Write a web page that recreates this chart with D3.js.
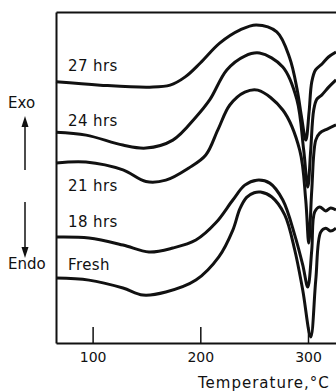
<!DOCTYPE html>
<html>
<head>
<meta charset="utf-8">
<script src="https://cdn.jsdelivr.net/npm/d3@7"></script>
<style>
  body { margin: 0; background: #fff; }
  text { font-family: "DejaVu Sans", sans-serif; fill: #111; }
</style>
</head>
<body>
<script>
const w = 336;
const h = 392;

// DTA traces, [temperature °C, signal (arbitrary units)]
const curve27 = [[66, 78.9], [107, 77.9], [153, 77.3], [172, 77.9], [186, 80.4], [200, 84.6], [218, 90.6], [237, 94.6], [252, 96.1], [271, 94.0], [283, 86.1], [290, 76.4], [294, 68.3], [298, 61.3], [301, 69.8], [303.5, 78.9], [307, 82.5], [313, 84.3], [319, 86.4], [326, 87.9]];
const curve24 = [[66, 63.7], [94, 62.8], [128, 59.8], [149.5, 58.9], [174.5, 61.3], [196, 68.3], [209, 73.6], [224.6, 82.5], [241.3, 86.7], [255, 87.6], [276.6, 83.4], [289.6, 73.6], [296, 58.3], [299.8, 47.1], [302.5, 58.3], [305.3, 70.4], [308.1, 73.6], [312.7, 74.9], [319.2, 77.3], [326, 79.5]];
const curve21 = [[66, 54.4], [93.8, 54.7], [128.2, 52.3], [149.5, 48.8], [168, 49.2], [189.4, 52.9], [205.1, 56.8], [216.3, 64.4], [227.4, 71.9], [241.3, 75.8], [253.4, 76.4], [276.6, 70.4], [292.3, 58.3], [297.9, 43.2], [300.7, 30.2], [303.5, 46.2], [307.2, 61.3], [310.9, 63.4], [318.3, 64.7], [326, 65.9]];
const curve18 = [[66, 32.0], [96.6, 31.7], [128.2, 29.6], [152.3, 27.5], [174.5, 28.7], [195.9, 31.1], [214.4, 36.3], [230.2, 43.2], [241.3, 47.7], [252.4, 49.2], [264.5, 48.3], [276.6, 43.2], [287.7, 32.6], [295.1, 23.6], [299.8, 16.9], [303.5, 28.1], [306.2, 39.6], [310.9, 41.1], [316.5, 39.9], [321.1, 40.8], [326, 40.2]];
const curveFresh = [[66, 19.6], [96.6, 19.0], [128.2, 16.6], [146.7, 14.5], [168, 15.4], [195.9, 19.0], [217.2, 26.0], [230.2, 34.1], [236.7, 40.5], [243, 44.0], [250, 45.4], [256, 45.6], [266.4, 44.1], [278.4, 38.7], [287.7, 28.1], [295.1, 16.0], [302.5, 1.8], [307.2, 19.0], [311.8, 33.5], [316.5, 34.7], [321.1, 33.8], [326, 34.7]];

const curveLabels = ["27 hrs", "24 hrs", "21 hrs", "18 hrs", "Fresh"];
const labelLevels = [82.2, 65.6, 46.0, 35.0, 22.1];
const tickTemps = [100, 200, 300];

const svg = d3.select("body")
  .append("svg")
  .attr("width", w)
  .attr("height", h);

svg.append("rect").attr("width", w).attr("height", h).attr("fill", "#fff");

const x = d3.scaleLinear().domain([66, 326]).range([56, 336]);
const y = d3.scaleLinear().domain([0, 100]).range([343, 12]);

// frame: bottom axis with inward ticks, left and top plain lines
const xAxis = svg.append("g")
  .attr("transform", "translate(0," + y(0) + ")")
  .call(d3.axisBottom(x).tickValues(tickTemps).tickSizeInner(-16).tickSizeOuter(0).tickPadding(9));
xAxis.selectAll("text").attr("font-size", 14).attr("font-family", "DejaVu Sans").attr("fill", "#111");

svg.append("g")
  .attr("transform", "translate(" + x(66) + ",0)")
  .call(d3.axisLeft(y).tickValues([]).tickSizeOuter(0));

svg.append("g")
  .attr("transform", "translate(0," + y(100) + ")")
  .call(d3.axisTop(x).tickValues([]).tickSizeOuter(0));

svg.selectAll(".domain").attr("stroke", "#111").attr("stroke-width", 2);
svg.selectAll(".tick line").attr("stroke", "#111").attr("stroke-width", 1.5);

const line = d3.line()
  .x(d => x(d[0]))
  .y(d => y(d[1]))
  .curve(d3.curveCatmullRom.alpha(0.5));

svg.append("g")
  .selectAll("path")
  .data([curve27, curve24, curve21, curve18, curveFresh])
  .enter()
  .append("path")
  .attr("d", line)
  .attr("fill", "none")
  .attr("stroke", "#111")
  .attr("stroke-width", 3)
  .attr("stroke-linejoin", "round");

svg.append("g")
  .selectAll("text")
  .data(curveLabels)
  .enter()
  .append("text")
  .attr("x", 68)
  .attr("y", (d, i) => y(labelLevels[i]))
  .attr("font-size", 15)
  .attr("letter-spacing", 0.4)
  .text(d => d);

svg.append("text")
  .attr("x", 198)
  .attr("y", 388)
  .attr("font-size", 15)
  .attr("letter-spacing", 1)
  .text("Temperature,°C");

// Exo / Endo arrows on the left
svg.append("text").attr("x", 8).attr("y", 108).attr("font-size", 15).text("Exo");
svg.append("text").attr("x", 8).attr("y", 269).attr("font-size", 15).text("Endo");

svg.append("line").attr("x1", 25).attr("x2", 25).attr("y1", 124).attr("y2", 170)
  .attr("stroke", "#111").attr("stroke-width", 1.5);
svg.append("path").attr("d", "M25,116 L21.5,127 L28.5,127 Z").attr("fill", "#111");

svg.append("line").attr("x1", 25).attr("x2", 25).attr("y1", 202).attr("y2", 249)
  .attr("stroke", "#111").attr("stroke-width", 1.5);
svg.append("path").attr("d", "M25,258 L21.5,247 L28.5,247 Z").attr("fill", "#111");
</script>
</body>
</html>
